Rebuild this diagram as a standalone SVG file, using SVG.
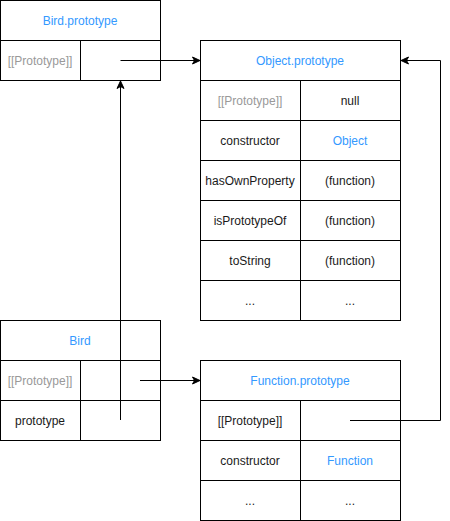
<svg xmlns="http://www.w3.org/2000/svg" width="450" height="521" viewBox="0 0 450 521">
<style>
rect{fill:#fff;stroke:#000;stroke-width:1}
line.d{stroke:#000;stroke-width:1}
text{font-family:"Liberation Sans",Arial,sans-serif;font-size:12px;text-anchor:middle;fill:#1a1a1a}
text.t{fill:#3399ff}
text.g{fill:#999}
.c{fill:none;stroke:#000;stroke-width:1}
</style>
<defs>
<marker id="ar" markerUnits="userSpaceOnUse" markerWidth="10" markerHeight="10" viewBox="0 0 10 10" refX="8" refY="5" orient="auto">
<path d="M0.5,1.5 L8,5 L0.5,8.5 L2.5,5 Z" fill="#000" stroke="#000" stroke-width="1"/>
</marker>
</defs>
<rect x="0" y="0" width="450" height="521" style="fill:#fff;stroke:none"/>
<g id="bird-prototype">
<rect x="0.5" y="0.5" width="160" height="40"/>
<rect x="0.5" y="40.5" width="80" height="40"/>
<rect x="80.5" y="40.5" width="80" height="40"/>
<text class="t" x="80" y="24.5">Bird.prototype</text>
<text class="g" x="40" y="64.5">[[Prototype]]</text>
</g>
<g id="object-prototype">
<rect x="200.5" y="40.5" width="200" height="40"/>
<rect x="200.5" y="80.5" width="100" height="40"/><rect x="300.5" y="80.5" width="100" height="40"/>
<rect x="200.5" y="120.5" width="100" height="40"/><rect x="300.5" y="120.5" width="100" height="40"/>
<rect x="200.5" y="160.5" width="100" height="40"/><rect x="300.5" y="160.5" width="100" height="40"/>
<rect x="200.5" y="200.5" width="100" height="40"/><rect x="300.5" y="200.5" width="100" height="40"/>
<rect x="200.5" y="240.5" width="100" height="40"/><rect x="300.5" y="240.5" width="100" height="40"/>
<rect x="200.5" y="280.5" width="100" height="40"/><rect x="300.5" y="280.5" width="100" height="40"/>
<text class="t" x="300" y="64.5">Object.prototype</text>
<text class="g" x="250" y="104.5">[[Prototype]]</text><text x="350" y="104.5">null</text>
<text x="250" y="144.5">constructor</text><text class="t" x="350" y="144.5">Object</text>
<text x="250" y="184.5">hasOwnProperty</text><text x="350" y="184.5">(function)</text>
<text x="250" y="224.5">isPrototypeOf</text><text x="350" y="224.5">(function)</text>
<text x="250" y="264.5">toString</text><text x="350" y="264.5">(function)</text>
<text x="250" y="304.5">...</text><text x="350" y="304.5">...</text>
</g>
<g id="bird">
<rect x="0.5" y="320.5" width="160" height="40"/>
<rect x="0.5" y="360.5" width="80" height="40"/><rect x="80.5" y="360.5" width="80" height="40"/>
<rect x="0.5" y="400.5" width="80" height="40"/><rect x="80.5" y="400.5" width="80" height="40"/>
<text class="t" x="80" y="344.5">Bird</text>
<text class="g" x="40" y="384.5">[[Prototype]]</text>
<text x="40" y="424.5">prototype</text>
</g>
<g id="function-prototype">
<rect x="200.5" y="360.5" width="200" height="40"/>
<rect x="200.5" y="400.5" width="100" height="40"/><rect x="300.5" y="400.5" width="100" height="40"/>
<rect x="200.5" y="440.5" width="100" height="40"/><rect x="300.5" y="440.5" width="100" height="40"/>
<rect x="200.5" y="480.5" width="100" height="40"/><rect x="300.5" y="480.5" width="100" height="40"/>
<text class="t" x="300" y="384.5">Function.prototype</text>
<text x="250" y="424.5">[[Prototype]]</text>
<text x="250" y="464.5">constructor</text><text class="t" x="350" y="464.5">Function</text>
<text x="250" y="504.5">...</text><text x="350" y="504.5">...</text>
</g>
<g id="connectors">
<path class="c" d="M120.5,60.5 L200,60.5" marker-end="url(#ar)"/>
<path class="c" d="M120.5,420 L120.5,81" marker-end="url(#ar)"/>
<path class="c" d="M140,380.5 L200,380.5" marker-end="url(#ar)"/>
<path class="c" d="M350,420.5 L440.5,420.5 L440.5,60.5 L401,60.5" marker-end="url(#ar)"/>
</g>
</svg>
